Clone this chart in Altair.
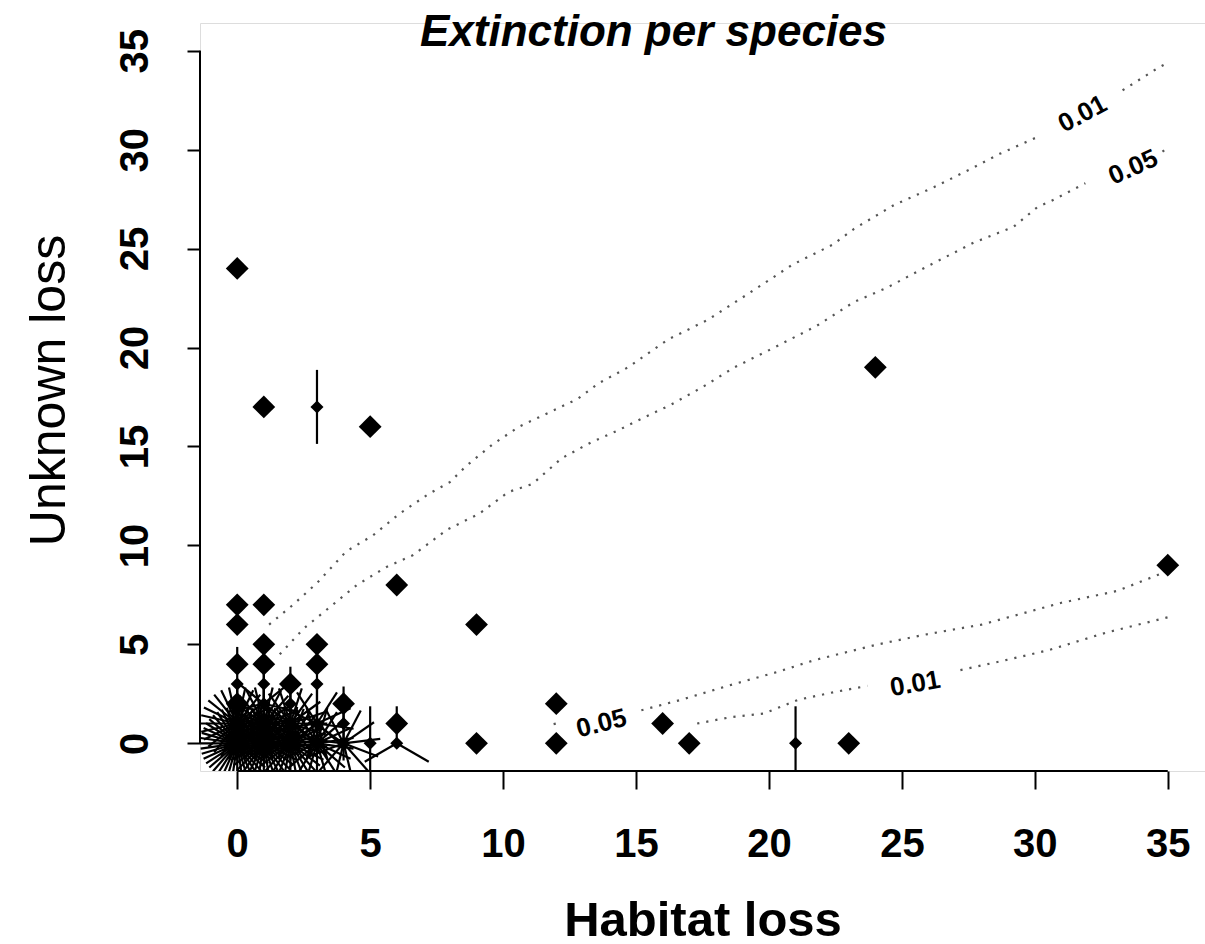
import math
import altair as alt
import pandas as pd

# ---------------- data ----------------
title_text = "Extinction per species"
x_title = "Habitat loss"
y_title = "Unknown loss"
tick_values = [0, 5, 10, 15, 20, 25, 30, 35]

# single observations (drawn as diamonds)
single_x = [0, 1, 5, 24, 6, 9, 35, 12, 12, 9, 16, 17, 23, 0, 0, 0, 1, 1, 1, 3, 3, 2, 4, 6, 0]
single_y = [24, 17, 16, 19, 8, 6, 9, 2, 0, 0, 1, 0, 0, 7, 6, 4, 7, 5, 4, 5, 4, 3, 2, 1, 2]

# repeated observations (sunflowers): position and number of species
multi_x = [0, 0, 0, 1, 1, 1, 1, 2, 2, 2, 3, 3, 3, 4, 4, 5, 6, 3, 21]
multi_y = [0, 1, 3, 0, 1, 2, 3, 0, 1, 2, 0, 1, 3, 0, 1, 0, 0, 17, 0]
multi_n = [44, 28, 2, 40, 26, 7, 2, 34, 20, 2, 22, 11, 2, 13, 2, 2, 3, 2, 2]

# significance contours (dotted), each split where its label sits
c_upper01_a_x = [1.2, 2.1, 3.0, 4.1, 5.1, 6.1, 7.2, 8.0, 8.6, 9.6, 10.6, 11.7, 12.8, 13.6, 14.7, 16.2,
                 17.7, 19.2, 20.9, 22.4, 23.2, 24.7, 26.2, 27.7, 28.7, 30.2]
c_upper01_a_y = [6.0, 7.0, 8.1, 9.7, 10.5, 11.6, 12.6, 13.2, 14.0, 15.1, 16.0, 16.7, 17.4, 18.2, 19.0, 20.4,
                 21.4, 22.7, 24.2, 25.2, 26.0, 27.2, 28.1, 29.1, 29.8, 30.7]
c_upper01_b_x = [33.3, 34.6, 35.0]
c_upper01_b_y = [33.0, 34.1, 34.4]

c_upper05_a_x = [1.6, 2.5, 3.5, 4.5, 5.6, 6.6, 7.9, 9.1, 10.2, 11.1, 12.2, 13.3, 14.3, 15.2, 16.3, 17.5,
                 18.7, 20.2, 21.8, 23.2, 24.4, 26.1, 27.7, 29.2, 30.1, 30.6, 31.9]
c_upper05_a_y = [4.5, 5.8, 6.9, 8.0, 8.9, 9.5, 10.8, 11.6, 12.7, 13.1, 14.4, 15.2, 15.8, 16.4, 17.1, 18.0,
                 19.0, 20.0, 21.1, 22.3, 23.0, 24.2, 25.3, 26.1, 27.1, 27.4, 28.3]
c_upper05_b_x = [34.8, 35.0]
c_upper05_b_y = [29.9, 30.1]

c_lower05_a_x = [11.9, 12.1]
c_lower05_a_y = [0.97, 1.03]
c_lower05_b_x = [15.2, 16.7, 18.7, 20.3, 21.7, 24.1, 25.9, 28.0, 31.0, 33.1, 34.8]
c_lower05_b_y = [1.67, 2.2, 3.0, 3.6, 4.2, 5.0, 5.5, 6.0, 7.1, 7.7, 8.6]

c_lower01_a_x = [17.3, 18.6, 19.8, 21.1, 22.5, 23.7]
c_lower01_a_y = [1.0, 1.33, 1.5, 2.2, 2.6, 2.9]
c_lower01_b_x = [27.2, 28.9, 30.5, 32.7, 35.1]
c_lower01_b_y = [3.7, 4.2, 4.7, 5.6, 6.4]

label_text = ["0.01", "0.05", "0.05", "0.01"]
label_x = [31.8, 33.7, 13.7, 25.5]
label_y = [31.8, 29.1, 1.0, 3.0]

# ---------------- styling ----------------
label_angles = [332, 336, 346, 350]
petal_len_x = 1.39   # sunflower petal length in x units (R size = 1/8 inch)
petal_len_y = 1.87   # same length in y units
dom = [-1.4, 36.4]
font = "Liberation Sans, Arial"

# ---------------- tables ----------------
singles = pd.DataFrame({"x": single_x, "y": single_y})
multis = pd.DataFrame({"x": multi_x, "y": multi_y, "n": multi_n})

petal_rows = []
for x0, y0, n in zip(multi_x, multi_y, multi_n):
    for z in range(1, n + 1):
        deg = 2 * math.pi * z / n
        petal_rows.append({"x": x0, "y": y0,
                           "x2": x0 + petal_len_x * math.sin(deg),
                           "y2": y0 + petal_len_y * math.cos(deg)})
petals = pd.DataFrame(petal_rows)

pieces = [
    ("u01a", c_upper01_a_x, c_upper01_a_y), ("u01b", c_upper01_b_x, c_upper01_b_y),
    ("u05a", c_upper05_a_x, c_upper05_a_y), ("u05b", c_upper05_b_x, c_upper05_b_y),
    ("l05a", c_lower05_a_x, c_lower05_a_y), ("l05b", c_lower05_b_x, c_lower05_b_y),
    ("l01a", c_lower01_a_x, c_lower01_a_y), ("l01b", c_lower01_b_x, c_lower01_b_y),
]
crow = []
for name, xs, ys in pieces:
    for i, (a, b) in enumerate(zip(xs, ys)):
        crow.append({"piece": name, "order": i, "x": a, "y": b})
contours = pd.DataFrame(crow)

labels = pd.DataFrame({"x": label_x, "y": label_y, "text": label_text, "angle": label_angles})

xaxis_line = pd.DataFrame({"x": [tick_values[0]], "x2": [tick_values[-1]], "y": [dom[0]]})
yaxis_line = pd.DataFrame({"x": [dom[0]], "y": [tick_values[0]], "y2": [tick_values[-1]]})

# ---------------- encodings ----------------
xscale = alt.Scale(domain=dom, nice=False, zero=False)
yscale = alt.Scale(domain=dom, nice=False, zero=False)

x_axis = alt.Axis(values=tick_values, domain=False, grid=False, tickSize=18, tickWidth=2,
                  tickColor="black", labelFont=font, labelFontSize=40, labelFontWeight="bold",
                  labelColor="black", labelPadding=67, labelBaseline="alphabetic",
                  labelAlign="center", labelFlush=False, labelOverlap=False,
                  title=x_title, titleFont=font, titleFontSize=49, titleFontWeight="bold",
                  titleColor="black", titleY=164, titleBaseline="alphabetic")
y_axis = alt.Axis(values=tick_values, domain=False, grid=False, tickSize=13, tickWidth=2,
                  tickColor="black", labelFont=font, labelFontSize=40, labelFontWeight="bold",
                  labelColor="black", labelPadding=40, labelAngle=270, labelBaseline="alphabetic",
                  labelAlign="center", labelFlush=False, labelOverlap=False,
                  title=y_title, titleFont=font, titleFontSize=50, titleFontWeight="normal",
                  titleColor="black", titleX=-136, titleY=367, titleAngle=270,
                  titleBaseline="alphabetic", titleAlign="center")


def X():
    return alt.X("x:Q", scale=xscale, axis=x_axis)


def Y():
    return alt.Y("y:Q", scale=yscale, axis=y_axis)


xline = alt.Chart(xaxis_line).mark_rule(color="black", strokeWidth=2).encode(
    x=X(), x2="x2:Q", y=Y())
yline = alt.Chart(yaxis_line).mark_rule(color="black", strokeWidth=2).encode(
    x=X(), y=Y(), y2="y2:Q")

contour_layer = alt.Chart(contours).mark_line(
    color="#555555", strokeWidth=2.2, strokeDash=[2.2, 7], strokeCap="butt"
).encode(x=X(), y=Y(), detail="piece:N", order="order:Q")

label_layer = alt.Chart(labels).mark_text(
    font=font, fontSize=26, fontWeight="bold", color="black", align="center", baseline="middle"
).encode(x=X(), y=Y(), text="text:N", angle=alt.Angle("angle:Q", scale=None))

petal_layer = alt.Chart(petals).mark_rule(color="black", strokeWidth=2.2, clip=True).encode(
    x=X(), y=Y(), x2="x2:Q", y2="y2:Q")

multi_layer = alt.Chart(multis).mark_point(
    shape="diamond", filled=True, color="black", size=170, opacity=1
).encode(x=X(), y=Y())

single_layer = alt.Chart(singles).mark_point(
    shape="diamond", filled=True, color="black", size=520, opacity=1
).encode(x=X(), y=Y())

chart = alt.layer(
    single_layer, xline, yline, contour_layer, label_layer, petal_layer, multi_layer
).properties(
    width=1005, height=748,
    autosize=alt.AutoSizeParams(type="none"),
    padding={"left": 200, "top": 23, "right": 0, "bottom": 173},
    title=alt.TitleParams(title_text, font=font, fontSize=44, fontWeight="bold",
                          fontStyle="italic", color="black", anchor="middle", dx=-49,
                          baseline="alphabetic", dy=71),
).configure_view(strokeWidth=0).configure(background="white")

chart.save("out.html", embed_options={"renderer": "svg", "actions": False})
